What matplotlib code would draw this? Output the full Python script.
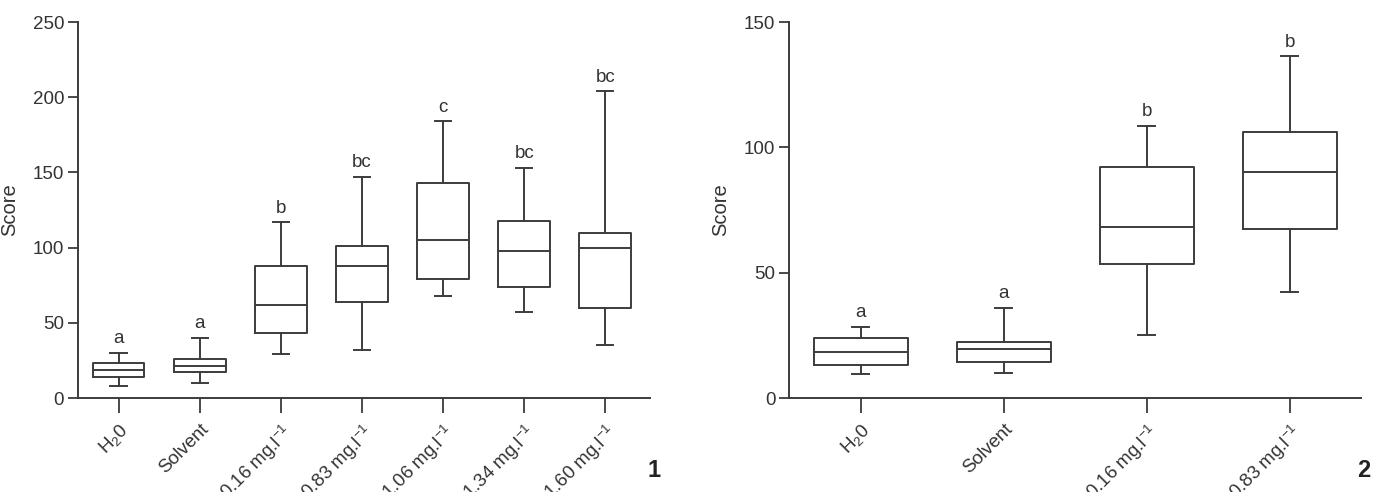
import numpy as np
import matplotlib
matplotlib.use("Agg")
import matplotlib.pyplot as plt

plt.rcParams['font.family'] = ['Liberation Sans', 'DejaVu Sans']
plt.rcParams['mathtext.fontset'] = 'custom'
plt.rcParams['mathtext.rm'] = 'Liberation Sans'
plt.rcParams['mathtext.it'] = 'Liberation Sans'

# ---- panel 1 data ----
labels1 = ['H$_2$0', 'Solvent', '0.16 mg.l$^{-1}$', '0.83 mg.l$^{-1}$',
           '1.06 mg.l$^{-1}$', '1.34 mg.l$^{-1}$', '1.60 mg.l$^{-1}$']
whislo1 = [8, 10, 29, 32, 68, 57, 35]
q1_1 = [14, 17, 43, 64, 79, 74, 60]
med1 = [18.6, 21, 62, 87.5, 105, 98, 100]
q3_1 = [23, 26, 87.5, 101, 143, 118, 110]
whishi1 = [30, 40, 117, 147, 184, 153, 204]
letters1 = ['a', 'a', 'b', 'bc', 'c', 'bc', 'bc']

# ---- panel 2 data ----
labels2 = ['H$_2$0', 'Solvent', '0.16 mg.l$^{-1}$', '0.83 mg.l$^{-1}$']
whislo2 = [9.7, 10, 25, 42.3]
q1_2 = [13, 14.5, 53.4, 67.4]
med2 = [18.5, 19.5, 68.3, 90.3]
q3_2 = [24, 22.5, 92, 106]
whishi2 = [28.5, 36, 108.6, 136.4]
letters2 = ['a', 'a', 'b', 'b']

line_col = '#3c3c3c'
text_col = '#333333'
fs = 13.5


def make_stats(labels, lo, q1, med, q3, hi):
    stats = []
    for i in range(len(labels)):
        stats.append(dict(label=labels[i], whislo=lo[i], q1=q1[i], med=med[i],
                          q3=q3[i], whishi=hi[i], fliers=[]))
    return stats


def draw_panel(ax, labels, lo, q1, med, q3, hi, letters, ymax, yticks,
               width, capw, xright):
    stats = make_stats(labels, lo, q1, med, q3, hi)
    pos = np.arange(len(labels))
    lw = 1.4
    ax.bxp(stats, positions=pos, widths=width, showfliers=False,
           boxprops=dict(color=line_col, linewidth=lw),
           medianprops=dict(color=line_col, linewidth=lw),
           whiskerprops=dict(color=line_col, linewidth=lw),
           capprops=dict(color=line_col, linewidth=lw),
           capwidths=capw)
    for i in range(len(labels)):
        ax.annotate(letters[i], (pos[i], hi[i]), xytext=(0, 4),
                    textcoords='offset points', ha='center', va='bottom',
                    fontsize=fs, color=text_col)
    ax.set_xlim(-0.5, xright)
    ax.set_ylim(0, ymax)
    ax.set_yticks(yticks)
    ax.set_xticks(pos)
    ax.set_xticklabels(labels, rotation=45, ha='right', va='top',
                       rotation_mode='anchor', fontsize=fs, color=text_col)
    ax.tick_params(axis='y', labelsize=fs, labelcolor=text_col, color=line_col,
                   length=7, width=1.3, direction='out', pad=3)
    ax.tick_params(axis='x', color=line_col, length=11, width=1.3,
                   direction='out', pad=5)
    ax.set_ylabel('Score', fontsize=fs + 1, color=text_col, labelpad=10)
    for s in ['top', 'right']:
        ax.spines[s].set_visible(False)
    for s in ['left', 'bottom']:
        ax.spines[s].set_color(line_col)
        ax.spines[s].set_linewidth(1.4)


fig = plt.figure(figsize=(13.75, 4.92), dpi=100)
ax1 = fig.add_axes([0.0567, 0.191, 0.416, 0.764])
ax2 = fig.add_axes([0.574, 0.191, 0.416, 0.764])

draw_panel(ax1, labels1, whislo1, q1_1, med1, q3_1, whishi1, letters1,
           250, [0, 50, 100, 150, 200, 250], 0.64, 0.2, 6.55)
draw_panel(ax2, labels2, whislo2, q1_2, med2, q3_2, whishi2, letters2,
           150, [0, 50, 100, 150], 0.66, 0.12, 3.5)

fig.text(0.476, 0.03, '1', fontsize=17, fontweight='bold', color='#222222',
         ha='center')
fig.text(0.992, 0.03, '2', fontsize=17, fontweight='bold', color='#222222',
         ha='center')

fig.savefig('out.png', dpi=100)
